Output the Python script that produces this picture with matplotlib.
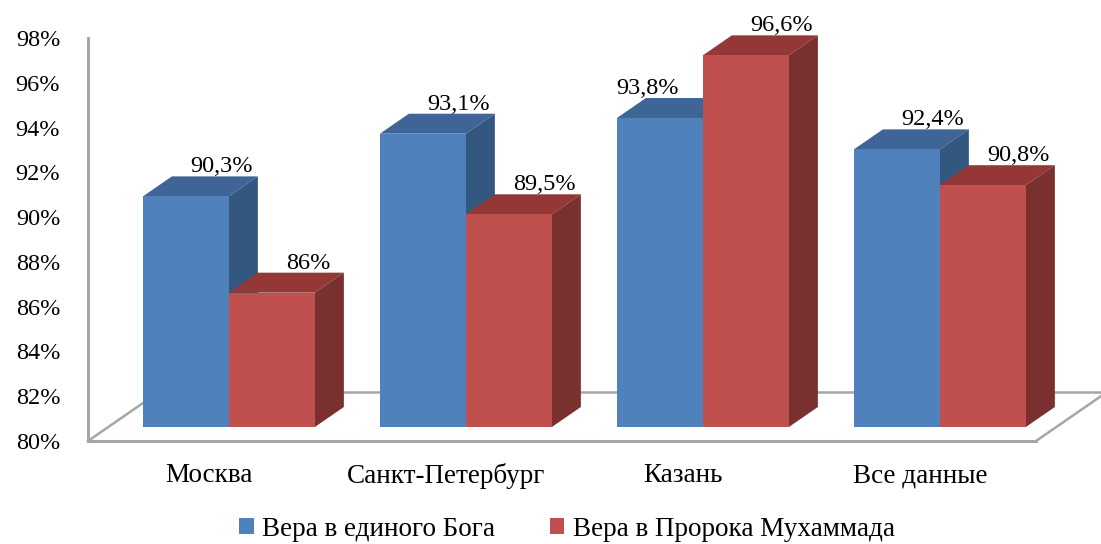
import matplotlib
matplotlib.use("Agg")
import matplotlib.pyplot as plt
from matplotlib.patches import Polygon, Patch
from matplotlib.transforms import Affine2D, offset_copy

# Survey results, percent
categories = ["Москва", "Санкт-Петербург", "Казань", "Все данные"]
belief_god = [90.3, 93.1, 93.8, 92.4]
belief_prophet = [86.0, 89.5, 96.6, 90.8]
labels_god = ["90,3%", "93,1%", "93,8%", "92,4%"]
labels_prophet = ["86%", "89,5%", "96,6%", "90,8%"]
series_names = ["Вера в единого Бога", "Вера в Пророка Мухаммада"]
y_ticks = [80, 82, 84, 86, 88, 90, 92, 94, 96, 98]
y_tick_labels = [f"{t}%" for t in y_ticks]

FONT = "Liberation Serif"
plt.rcParams["font.family"] = [FONT, "DejaVu Serif"]

W, H = 1101, 544
fig = plt.figure(figsize=(W / 100, H / 100), dpi=100)
ax = fig.add_axes([88 / W, 103 / H, 948 / W, 403 / H])
ax.set_xlim(-0.51, 3.49)
ax.set_ylim(80, 98)

# pixel scale of the axes (data units per pixel)
px_x = (3.49 + 0.51) / 948.0
px_y = (98 - 80) / 403.0

# bars sit a little behind the front floor edge; depth of each box
front = ax.transData + Affine2D().translate(20, 14)
depth_x, depth_y = 29 * px_x, 20 * px_y
floor_dx, floor_dy = 71 * px_x, 49 * px_y

grey = "#a6a6a6"
for s in ["top", "right"]:
    ax.spines[s].set_visible(False)
for s in ["left", "bottom"]:
    ax.spines[s].set_color(grey)
    ax.spines[s].set_linewidth(2.2)

# floor outline (receding edges)
x0, x1 = ax.get_xlim()
ax.plot([x0, x0 + floor_dx], [80, 80 + floor_dy], color=grey, lw=1.8,
        clip_on=False, zorder=1)
ax.plot([x1, x1 + floor_dx], [80, 80 + floor_dy], color=grey, lw=1.8,
        clip_on=False, zorder=1)
ax.plot([x0 + floor_dx, x1 + floor_dx], [80 + floor_dy, 80 + floor_dy],
        color=grey, lw=1.8, clip_on=False, zorder=1)

bar_w = 86 / 237.0
series = [
    (belief_god, labels_god, -bar_w, ("#4f81bd", "#3e6596", "#34577f")),
    (belief_prophet, labels_prophet, 0.0, ("#c0504d", "#933836", "#7a302f")),
]

label_tr = offset_copy(ax.transData, fig=fig, x=56, y=38, units="dots")
# labels of a left bar that is lower than its neighbour move aside
label_tr_aside = offset_copy(ax.transData, fig=fig, x=8, y=38, units="dots")

for i in range(len(categories)):
    for k, (vals, labs, shift, (c_front, c_top, c_side)) in enumerate(series):
        v = vals[i]
        left = i + shift
        right = left + bar_w
        # top face
        ax.add_patch(Polygon(
            [(left, v), (right, v), (right + depth_x, v + depth_y),
             (left + depth_x, v + depth_y)],
            closed=True, facecolor=c_top, edgecolor="none",
            transform=front, clip_on=False, zorder=3))
        # right side face
        ax.add_patch(Polygon(
            [(right, 80), (right, v), (right + depth_x, v + depth_y),
             (right + depth_x, 80 + depth_y)],
            closed=True, facecolor=c_side, edgecolor="none",
            transform=front, clip_on=False, zorder=3))
        # front face
        ax.bar(left, v - 80, bottom=80, width=bar_w, align="edge",
               color=c_front, edgecolor="none", transform=front,
               clip_on=False, zorder=3)
        hidden = k == 0 and belief_prophet[i] > v
        ax.text(left + bar_w / 2, v, labs[i],
                transform=label_tr_aside if hidden else label_tr,
                ha="center", va="baseline", fontsize=17.5, family=FONT,
                color="black", zorder=5)

ax.set_yticks(y_ticks)
ax.set_yticklabels(y_tick_labels, fontsize=17.5, family=FONT)
ax.set_xticks(range(len(categories)))
ax.set_xticklabels(categories, fontsize=19.5, family=FONT)
ax.tick_params(axis="y", length=0, pad=20)
ax.tick_params(axis="x", length=0, pad=16)

handles = [Patch(facecolor="#4f81bd", edgecolor="none"),
           Patch(facecolor="#c0504d", edgecolor="none")]
fig.legend(handles, series_names, loc="center", ncol=2, frameon=False,
           bbox_to_anchor=(567 / W, 15 / H),
           prop={"family": FONT, "size": 19.5},
           handlelength=0.55, handleheight=0.55, handletextpad=0.3,
           columnspacing=2.0)

fig.savefig("out.png", dpi=100)
